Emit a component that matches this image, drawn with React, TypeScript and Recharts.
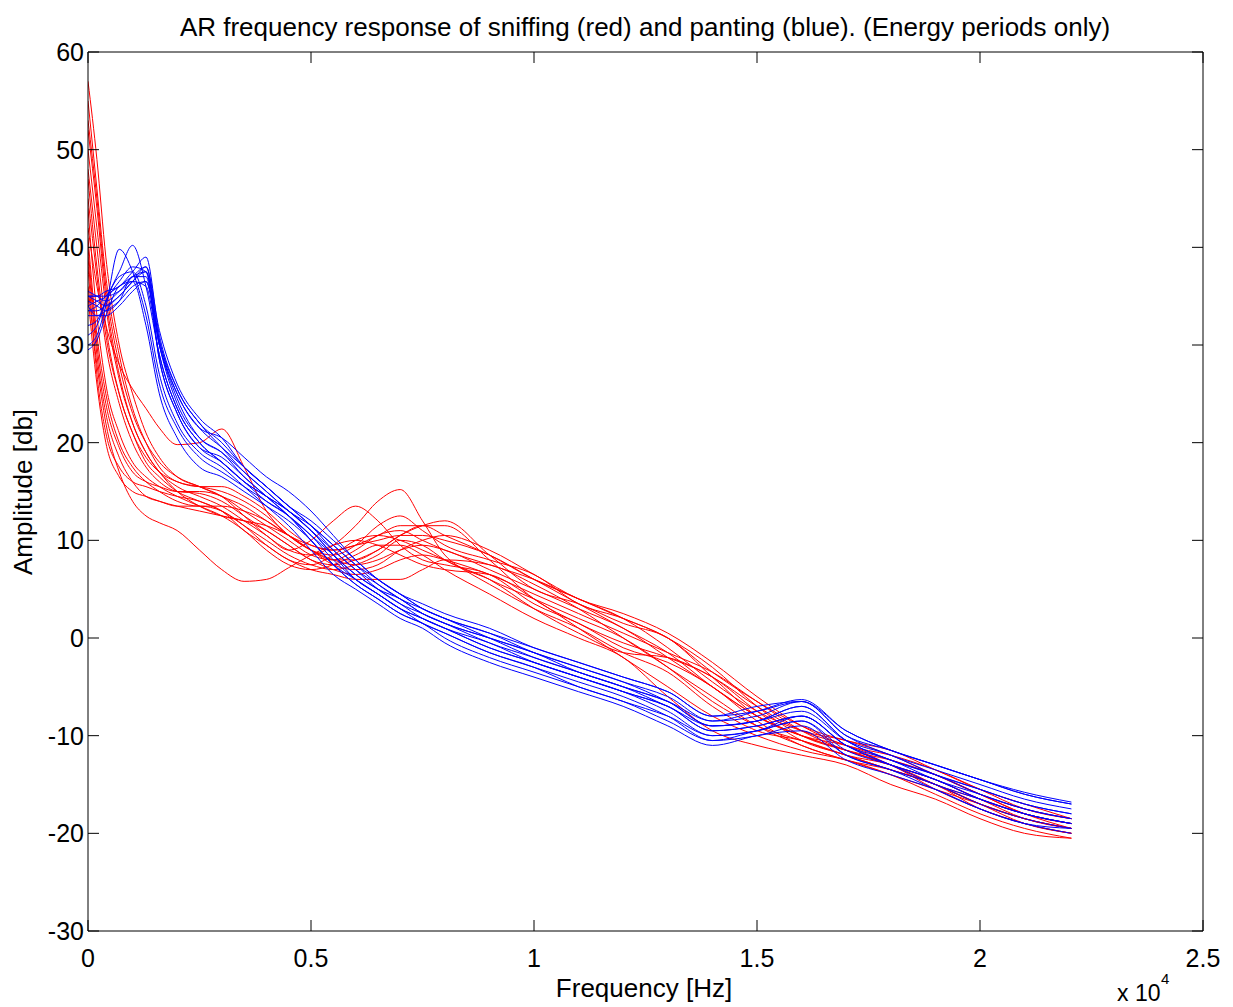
import React from "react";
import { LineChart, Line, XAxis, YAxis } from "recharts";

// frequency grid (Hz) shared by every AR response curve
const FREQS = [0, 200, 400, 700, 1000, 1300, 1600, 2000, 2500, 3000, 3500, 4000, 4500, 5000, 5500, 6000, 6500, 7000, 7500, 8000, 9000, 10000, 11000, 12000, 13000, 14000, 15000, 16000, 17000, 18000, 19000, 20000, 21000, 22050];

// sniffing (red)
const red01 = [57, 49, 39, 30, 25, 21, 18.5, 16.5, 15.5, 14.5, 12.5, 10.5, 9, 8.5, 9.5, 11.5, 14, 15.2, 12, 8.5, 6, 4, 2, 0, -3, -6.5, -9, -10.5, -12, -13, -15, -17, -18.5, -19.5];
const red02 = [42, 36, 32, 28, 25.5, 23.5, 21.5, 19.8, 20, 21.4, 17.5, 13, 10.5, 9, 8, 7.5, 8, 9, 9.5, 9, 7, 5, 3, 1, -2, -5, -8, -10, -11.5, -13, -14.5, -16.5, -18, -19];
const red03 = [36, 28, 22, 17, 14, 12.5, 11.8, 11, 9, 7, 5.8, 6, 7.2, 8.5, 9.5, 10, 9.5, 8.5, 7.5, 7, 6.5, 4, 1, -2, -5, -8, -10, -11.5, -12.5, -14, -16, -18, -19.5, -20.5];
const red04 = [52, 44, 35, 27, 22, 19, 17, 15.5, 14.5, 13.5, 12, 10.5, 9, 10, 12, 13.5, 12, 9.5, 8, 7.5, 6.5, 3.5, 1.5, -1, -2.5, -5, -8.5, -11, -12.5, -14, -15.5, -17, -18.5, -19.5];
const red05 = [45, 37, 30, 24, 20, 17.5, 16, 15, 14.8, 14, 12.5, 11, 9.5, 8, 7.5, 8, 9, 10.5, 11.5, 12, 8.5, 5, 3.5, 1.5, 0, -4, -8, -10, -11, -12.5, -14, -16, -18, -19];
const red06 = [40, 30, 24, 19.5, 17, 16, 15.5, 15, 15, 14.5, 13, 11.5, 10, 8.5, 8, 9, 10.5, 11, 10, 9, 7.5, 6, 4, 2, -1, -4.5, -7.5, -9.5, -10.5, -12, -14, -16, -17.5, -18.5];
const red07 = [48, 40, 32, 25, 21, 18, 16.5, 15, 14, 13, 11, 9.5, 8, 7.5, 8.5, 10, 10.5, 10, 9, 8, 5.5, 3, 1, -1.5, -3.5, -7, -9.5, -10.5, -12, -13.5, -15, -17.5, -19, -20];
const red08 = [38, 27, 21, 17.5, 16, 15.5, 15, 14.5, 14, 13, 11.5, 10, 8.5, 7.5, 7, 7.5, 8.5, 10, 9.5, 8, 6, 3, 0.5, -1.5, -2, -4, -7, -9.5, -11, -13, -15, -16.5, -18, -19];
const red09 = [55, 46, 37, 29, 23.5, 20, 17.5, 16, 15.5, 15, 14, 12.5, 10.5, 9, 8.5, 9.5, 11.5, 12.5, 11, 9.5, 8, 6.5, 3.5, 2, 0, -3, -7, -10, -11.5, -12.5, -14, -16, -18, -19.5];
const red10 = [35, 26, 20, 16.5, 15, 14.5, 14, 13.5, 13, 12.5, 12, 11, 9.5, 8, 7, 6.5, 7, 8, 8.5, 8, 6.5, 4.5, 2.5, 0.5, -1.5, -3.5, -6.5, -9.5, -11.5, -13, -15.5, -17.5, -19, -20];
const red11 = [50, 42, 34, 26.5, 22, 19, 17, 15, 13.5, 12.5, 12, 11.5, 10.5, 9, 7.5, 7, 7.5, 9, 10, 10.5, 9, 6.5, 4, 2.5, 0.5, -2.5, -6, -9, -11, -12, -13.5, -15.5, -17.5, -18.5];
const red12 = [44, 33, 26, 21, 18, 16.5, 15.5, 14.5, 13.5, 12.5, 11, 9, 7.5, 7, 7.5, 8.5, 9.5, 9.5, 8.5, 7, 4.5, 2, 0, -2, -6, -9.5, -11, -12, -13, -15, -16.5, -18.5, -20, -20.5];
const red13 = [53, 45, 36, 28, 23, 20, 18, 16.5, 15.5, 14.5, 13.5, 12, 10.5, 9.5, 9, 9.5, 10, 10.5, 10.5, 10, 8.5, 6, 3.5, 1, -1.5, -5, -8, -10, -11.5, -13, -14.5, -16.5, -18.5, -19.5];
const red14 = [41, 31, 25, 20, 17.5, 16, 15, 14, 13.5, 13.5, 13, 12, 10.5, 9, 8, 8, 9, 10.5, 11.5, 11.5, 8, 4, 1.5, -0.5, -2, -4, -7.5, -10.5, -12, -13.5, -15, -17, -18.5, -19.5];
const red15 = [47, 38, 31, 25, 21, 18.5, 17, 16, 15.5, 15.5, 14.5, 13, 11, 9.5, 9, 9.5, 10.5, 11.5, 11.5, 10.5, 8.5, 6, 4, 2, 0, -3.5, -6.5, -9, -10.5, -11.5, -13.5, -15.5, -17, -18.5];
const red16 = [39, 29, 23, 18.5, 16, 14.5, 14, 13.5, 13.5, 13, 11.5, 9.5, 8, 7, 6.5, 6, 6, 6, 7, 8, 7.5, 5.5, 3, 0, -3, -6, -9, -11, -12.5, -13.5, -15, -17, -19, -20];

// panting (blue)
const blue01 = [34, 34.5, 35, 37.5, 40.2, 36, 29, 23.5, 20, 18, 16, 14.5, 13, 11, 8.5, 6.5, 5, 4, 2.5, 1.5, 0, -1.5, -3, -4.5, -6.5, -9, -8.5, -7, -10.5, -12.5, -14, -16, -17.5, -18.5];
const blue02 = [30, 31, 34, 39.8, 37.5, 33, 26, 21.5, 18.5, 17, 15.5, 14, 12.5, 10, 7.5, 6, 4.5, 3, 2, 1, -1, -2.5, -4, -5.5, -7.5, -10, -9.5, -8.5, -11.5, -13, -14.5, -16.5, -18, -19];
const blue03 = [35, 35, 35.5, 36, 37.5, 39, 31, 25.5, 22, 19.5, 17, 15, 13, 11.5, 9.5, 7.5, 5.5, 4, 3, 2, 0.5, -1.5, -3, -4.5, -6, -8.5, -8, -6.5, -10, -12, -13.5, -15, -16.5, -17.5];
const blue04 = [35.5, 35, 34.5, 35.5, 37, 38, 30.5, 25, 21.5, 19.5, 17.5, 15.5, 13.5, 12, 10, 8, 6, 4.5, 3.5, 2.5, 1, -1, -2.5, -4, -5.5, -8, -7.5, -6.5, -9.5, -11.5, -13, -14.5, -16, -17];
const blue05 = [33.5, 33.5, 34, 35, 36.5, 37.5, 30, 24, 20.5, 19, 16.5, 14.5, 12.5, 10.5, 8.5, 6.5, 5, 3.5, 2, 1, -0.5, -2.5, -4, -5.5, -7, -9.5, -9, -8, -11, -13, -14.5, -16.5, -18, -19];
const blue06 = [34.5, 34, 33.5, 34.5, 37, 37, 28.5, 23, 19.5, 18, 16, 14, 12.5, 10.5, 8, 6, 4.5, 3, 1.5, 0.5, -1.5, -3, -4.5, -6, -8, -10.5, -10, -9, -12, -13.5, -15, -17, -18.5, -19.5];
const blue07 = [33, 33, 33.5, 34.5, 36, 36.5, 30, 25, 21.5, 20.5, 18.5, 16.5, 15, 13, 10.5, 8, 6, 4.5, 3, 2, 0, -2, -3.5, -5, -6.5, -8.5, -7.5, -6.3, -9.5, -11.5, -13, -14.5, -15.8, -16.8];
const blue08 = [29.5, 30.5, 33, 36, 36.5, 32, 25, 20.5, 17.5, 16.5, 15, 13.5, 12, 10, 7.5, 5.5, 4, 2.5, 1.5, 0.5, -1.5, -3, -5, -6.5, -8.5, -10.5, -9.5, -8.5, -12, -13.5, -15.5, -17.5, -19, -20];
const blue09 = [34, 33, 33, 34, 35.5, 36.5, 30, 24.5, 20.5, 19, 17, 15, 13, 11, 9, 7, 5.5, 4, 2.5, 1.5, 0, -1.5, -3.5, -5, -7, -9, -8.5, -7.5, -10.5, -12, -14, -15.5, -17, -18];
const blue10 = [35, 35, 35, 35.5, 36.5, 36, 29, 23.5, 20, 18, 16, 14.5, 13, 11, 8.5, 6, 4.5, 3, 2, 1, -1, -2.5, -4, -5.5, -7, -9.5, -9, -8, -11, -12.5, -14.5, -16, -17.5, -18.5];
const blue11 = [32, 32.5, 34.5, 36.5, 38, 37.5, 28.5, 23, 19.5, 18.5, 16.5, 14.5, 12.5, 10, 7.5, 5.5, 4, 2.5, 1.5, 0, -2, -3.5, -5, -6.5, -8, -10, -9.5, -8, -11, -13, -15, -16.5, -18, -19];
const blue12 = [33.5, 34, 35, 36, 37, 37.5, 30.5, 25.5, 22, 20, 17.5, 15.5, 13.5, 11.5, 9.5, 7.5, 6, 4.5, 3, 2, 0.5, -1, -2.5, -4, -5.5, -8, -7, -6.5, -10, -11.5, -13, -14.5, -16, -17];
const blue13 = [31, 32, 34.5, 37, 37.5, 34, 27, 22, 19, 17.5, 15.5, 13.5, 11.5, 9, 6.5, 5, 3.5, 2, 1, -0.5, -2.5, -4, -5.5, -7, -9, -11, -10, -9.5, -12.5, -14, -15.5, -17.5, -19, -19.5];
const blue14 = [35, 34.5, 34, 35, 36.5, 38, 31.5, 26, 22.5, 20.5, 17.5, 15.5, 13.5, 11.5, 9, 7, 5, 3.5, 2.5, 1.5, -0.5, -2, -3.5, -5, -6.5, -9, -8.5, -7, -10.5, -12.5, -14, -15.5, -17, -18];

const X_TICKS = [0, 5000, 10000, 15000, 20000, 25000];
const X_TICK_LABELS = ["0", "0.5", "1", "1.5", "2", "2.5"];
const Y_TICKS = [60, 50, 40, 30, 20, 10, 0, -10, -20, -30];

const redCurves = [red01, red02, red03, red04, red05, red06, red07, red08, red09, red10, red11, red12, red13, red14, red15, red16];
const blueCurves = [blue01, blue02, blue03, blue04, blue05, blue06, blue07, blue08, blue09, blue10, blue11, blue12, blue13, blue14];

const rows = FREQS.map((f, i) => {
  const row: Record<string, number> = { f };
  redCurves.forEach((c, k) => (row["r" + k] = c[i]));
  blueCurves.forEach((c, k) => (row["b" + k] = c[i]));
  return row;
});

const FONT = "'Liberation Sans', Arial, sans-serif";
const TICK = 11;

const BottomTick = (props: any) => {
  const { x, y, payload } = props;
  const idx = X_TICKS.indexOf(payload.value);
  return (
    <g>
      <line x1={x} y1={y} x2={x} y2={y - TICK} stroke="#000" />
      <text x={x} y={y + 36} textAnchor="middle" fontFamily={FONT} fontSize={25} fill="#000">
        {X_TICK_LABELS[idx]}
      </text>
    </g>
  );
};

const TopTick = (props: any) => {
  const { x, y } = props;
  return <line x1={x} y1={y} x2={x} y2={y + TICK} stroke="#000" />;
};

const LeftTick = (props: any) => {
  const { x, y, payload } = props;
  return (
    <g>
      <line x1={x} y1={y} x2={x + TICK} y2={y} stroke="#000" />
      <text x={x - 4} y={y + 9} textAnchor="end" fontFamily={FONT} fontSize={25} fill="#000">
        {payload.value}
      </text>
    </g>
  );
};

const RightTick = (props: any) => {
  const { x, y } = props;
  return <line x1={x} y1={y} x2={x - TICK} y2={y} stroke="#000" />;
};

export default function App() {
  return (
    <div style={{ position: "absolute", left: 0, top: 0, width: 1233, height: 1007, background: "#fff" }}>
      <LineChart width={1233} height={1007} data={rows} margin={{ top: 51, right: 29, bottom: 75, left: 87 }}>
        <XAxis
          dataKey="f"
          type="number"
          domain={[0, 25000]}
          ticks={X_TICKS}
          interval={0}
          height={1}
          tickSize={0}
          tickMargin={0}
          tickLine={false}
          axisLine={{ stroke: "#000" }}
          tick={BottomTick}
          allowDataOverflow
        />
        <XAxis
          xAxisId="top"
          orientation="top"
          dataKey="f"
          type="number"
          domain={[0, 25000]}
          ticks={X_TICKS}
          interval={0}
          height={1}
          tickSize={0}
          tickMargin={0}
          tickLine={false}
          axisLine={{ stroke: "#000" }}
          tick={TopTick}
          allowDataOverflow
        />
        <YAxis
          type="number"
          domain={[-30, 60]}
          ticks={Y_TICKS}
          interval={0}
          width={1}
          tickSize={0}
          tickMargin={0}
          tickLine={false}
          axisLine={{ stroke: "#000" }}
          tick={LeftTick}
          allowDataOverflow
        />
        <YAxis
          yAxisId="right"
          orientation="right"
          type="number"
          domain={[-30, 60]}
          ticks={Y_TICKS}
          interval={0}
          width={1}
          tickSize={0}
          tickMargin={0}
          tickLine={false}
          axisLine={{ stroke: "#000" }}
          tick={RightTick}
          allowDataOverflow
        />
        {redCurves.map((_, k) => (
          <Line
            key={"r" + k}
            dataKey={"r" + k}
            type="monotone"
            stroke="#ff0000"
            strokeWidth={1}
            dot={false}
            activeDot={false}
            isAnimationActive={false}
          />
        ))}
        {blueCurves.map((_, k) => (
          <Line
            key={"b" + k}
            dataKey={"b" + k}
            type="monotone"
            stroke="#0000ff"
            strokeWidth={1}
            dot={false}
            activeDot={false}
            isAnimationActive={false}
          />
        ))}
      </LineChart>
      <svg width={1233} height={1007} style={{ position: "absolute", left: 0, top: 0, pointerEvents: "none" }}>
        <text x={645} y={36} textAnchor="middle" fontFamily={FONT} fontSize={26} fill="#000">
          AR frequency response of sniffing (red) and panting (blue). (Energy periods only)
        </text>
        <text x={644} y={997} textAnchor="middle" fontFamily={FONT} fontSize={26} fill="#000">
          Frequency [Hz]
        </text>
        <text x={32} y={492} textAnchor="middle" fontFamily={FONT} fontSize={26} fill="#000" transform="rotate(-90 32 492)">
          Amplitude [db]
        </text>
        <text x={1117} y={1001} fontFamily={FONT} fontSize={23} fill="#000">
          x 10
        </text>
        <text x={1161} y={984} fontFamily={FONT} fontSize={15} fill="#000">
          4
        </text>
      </svg>
    </div>
  );
}
